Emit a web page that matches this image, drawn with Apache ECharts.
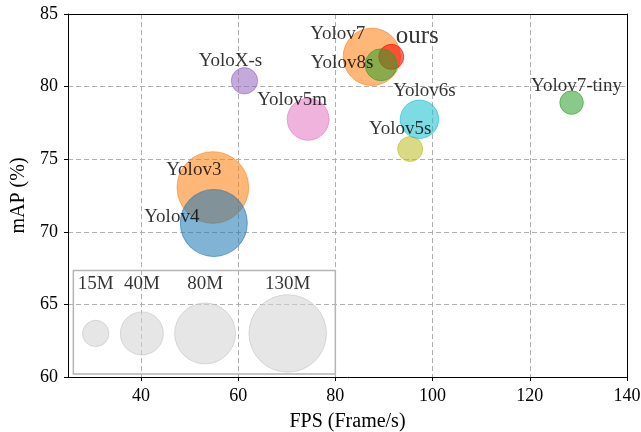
<!DOCTYPE html>
<html>
<head>
<meta charset="utf-8">
<script src="https://cdn.jsdelivr.net/npm/echarts@6/dist/echarts.min.js"></script>
<style>
  html, body { margin: 0; padding: 0; background: #fff; }
  #chart { width: 641px; height: 432px; }
</style>
</head>
<body>
<div id="chart"></div>
<script>
// models
const names = ['Yolov3', 'Yolov4', 'YoloX-s', 'Yolov5m', 'Yolov5s', 'Yolov6s', 'Yolov7', 'ours', 'Yolov8s', 'Yolov7-tiny']
const fps = [54.8, 55, 61.3, 74.4, 95.4, 97.3, 87.5, 91.5, 89.4, 128.6]
const mAP = [73.05, 70.6, 80.4, 77.75, 75.7, 77.75, 82.05, 82.05, 81.5, 78.9]
const params = [111, 97, 15, 38, 13.5, 32, 71, 13.5, 22, 12] // M

// size legend
const legendParams = [15, 40, 80, 130]
const legendLabels = ['15M', '40M', '80M', '130M']
const legendX = [30.7, 40.2, 53.2, 70.2]
const legendY = 63

const xTicks = [40, 60, 80, 100, 120, 140]

const colors = ['#ff7f0e', '#1f77b4', '#9467bd', '#e377c2', '#bcbd22', '#17becf', '#ff7f0e', '#ff0000', '#2ca02c', '#2ca02c']
const labelOffsets = [[-19, -17], [-42, -6], [-14, -20], [-16, -19], [-10, -20], [5, -28], [-34, -23], [26, -20], [-39, -2], [5, -17]]

const font = 'Liberation Serif'
const sizeOf = (p) => 2 * 3.4 * Math.sqrt(p)
const alpha = (hex, a) => {
    const n = parseInt(hex.slice(1), 16)
    return `rgba(${(n >> 16) & 255},${(n >> 8) & 255},${n & 255},${a})`
}

const chart = echarts.init(document.getElementById('chart'))

const frameAxis = {
    axisLine: { show: true, onZero: false, lineStyle: { color: '#000', width: 1 } },
    axisTick: { show: false },
    axisLabel: { show: false },
    splitLine: { show: false },
}

const option = {
    backgroundColor: '#fff',
    animation: false,
    grid: {
        left: 68,
        right: 14,
        top: 14,
        bottom: 55,
        outerBoundsMode: 'none',
        containLabel: false,
    },
    xAxis: [{
        type: 'value',
        min: 25,
        max: 140,
        name: 'FPS (Frame/s)',
        nameLocation: 'middle',
        nameGap: 35,
        nameTextStyle: { fontFamily: font, fontSize: 20, color: '#000' },
        axisLine: { onZero: false, lineStyle: { color: '#000', width: 1 } },
        axisTick: { show: true, length: 4, lineStyle: { color: '#000' }, customValues: xTicks },
        axisLabel: { fontFamily: font, fontSize: 18, color: '#000', margin: 10, customValues: xTicks },
        splitLine: { show: true, lineStyle: { color: '#b0b0b0', type: [5, 3], width: 1 } },
    }, {
        type: 'value',
        position: 'top',
        min: 25,
        max: 140,
        ...frameAxis,
    }],
    yAxis: [{
        type: 'value',
        min: 60,
        max: 85,
        interval: 5,
        name: 'mAP (%)',
        nameLocation: 'middle',
        nameGap: 38,
        nameTextStyle: { fontFamily: font, fontSize: 20, color: '#000' },
        axisLine: { show: true, onZero: false, lineStyle: { color: '#000', width: 1 } },
        axisTick: { show: true, length: 4, lineStyle: { color: '#000' } },
        axisLabel: { fontFamily: font, fontSize: 18, color: '#000', margin: 10 },
        splitLine: { show: true, lineStyle: { color: '#b0b0b0', type: [5, 3], width: 1 } },
    }, {
        type: 'value',
        position: 'right',
        min: 60,
        max: 85,
        ...frameAxis,
    }],
    series: [
        {
            name: 'size',
            type: 'scatter',
            symbolSize: (d) => sizeOf(d[2]),
            itemStyle: {
                color: 'rgba(211,211,211,0.7)',
                borderColor: 'rgba(190,190,190,0.7)',
                borderWidth: 1,
            },
            label: {
                show: true,
                position: 'inside',
                offset: [0, -49],
                formatter: (p) => legendLabels[p.dataIndex],
                fontFamily: font,
                fontSize: 19,
                color: '#000',
                textBorderWidth: 0,
            },
            data: legendParams.map((p, i) => [legendX[i], legendY, p]),
            markArea: {
                silent: true,
                itemStyle: {
                    color: 'rgba(0,0,0,0)',
                    borderColor: '#b5b5b5',
                    borderWidth: 1.5,
                },
                data: [[{ coord: [26.1, 67.33] }, { coord: [80, 60.2] }]],
            },
        },
        {
            name: 'models',
            type: 'scatter',
            symbolSize: (d) => sizeOf(d[2]),
            data: names.map((n, i) => ({
                name: n,
                value: [fps[i], mAP[i], params[i]],
                itemStyle: {
                    color: alpha(colors[i], 0.7),
                    borderColor: alpha(colors[i], 0.75),
                    borderWidth: 1,
                },
                label: {
                    offset: labelOffsets[i],
                    fontSize: n === 'ours' ? 25 : 19,
                },
            })),
            label: {
                show: true,
                position: 'inside',
                formatter: '{b}',
                fontFamily: font,
                fontSize: 19,
                color: '#000',
                textBorderWidth: 0,
            },
            z: 3,
        },
    ],
}
chart.setOption(option)
</script>
</body>
</html>
